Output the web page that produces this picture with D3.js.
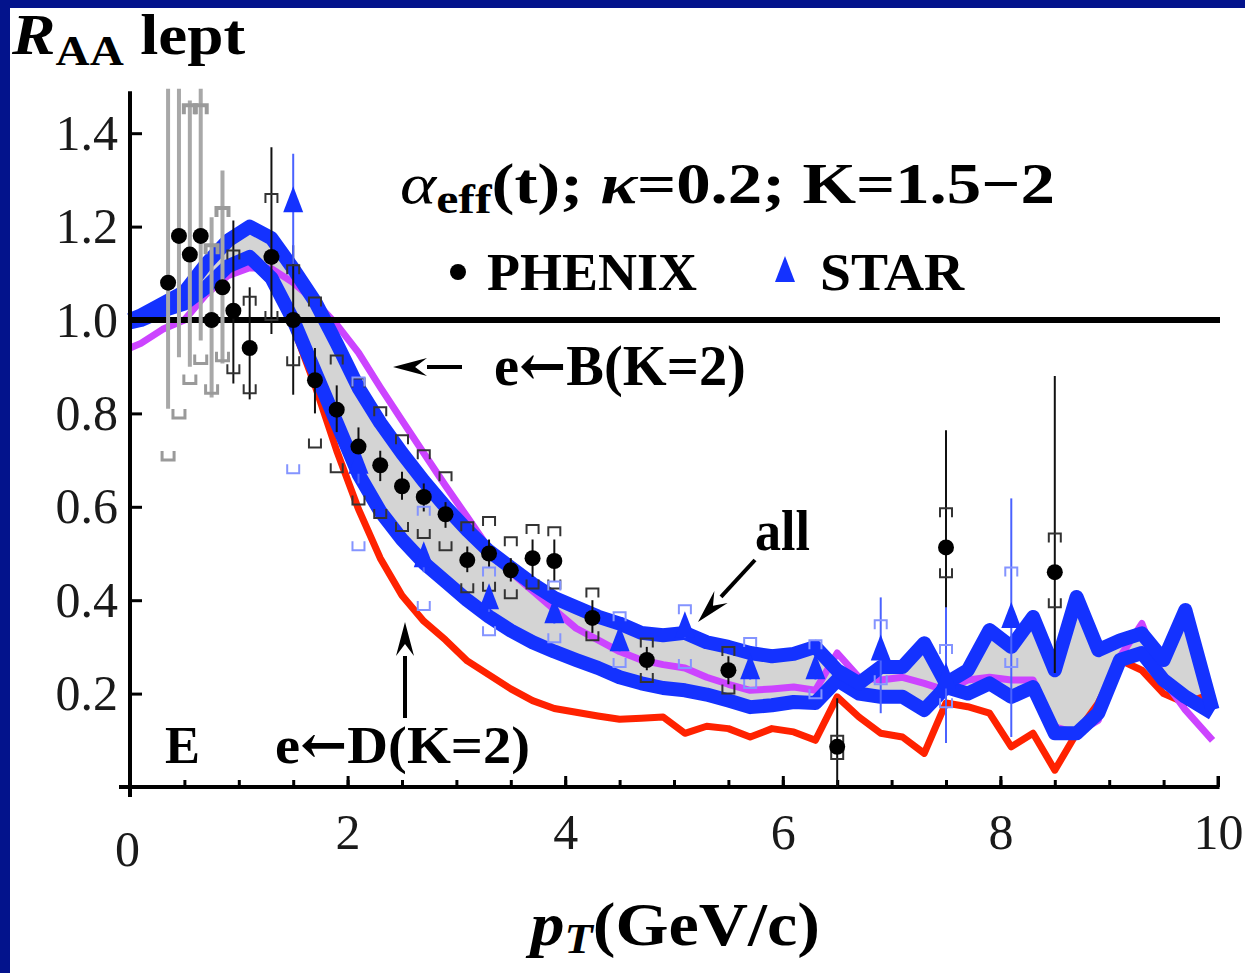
<!DOCTYPE html>
<html>
<head>
<meta charset="utf-8">
<script src="https://cdn.jsdelivr.net/npm/d3@7"></script>
<style>
  html, body { margin: 0; padding: 0; background: #03138c; }
  svg { display: block; }
</style>
</head>
<body>
<script>
// ---- model curves: pT grid (GeV/c) and R_AA of the calculations ----
const pt = [0, 0.1, 0.3, 0.5, 0.7, 0.9, 1.1, 1.3, 1.5, 1.7, 1.9, 2.1, 2.3, 2.5, 2.7, 2.9,
  3.1, 3.3, 3.5, 3.7, 3.9, 4.1, 4.3, 4.5, 4.7, 4.9, 5.1, 5.3, 5.5, 5.7, 5.9, 6.1, 6.3,
  6.5, 6.7, 6.9, 7.1, 7.3, 7.5, 7.7, 7.9, 8.1, 8.3, 8.5, 8.7, 8.9, 9.1, 9.3, 9.5, 9.7, 9.95];

// "all" leptons, K = 1.5 (upper edge of band)
const raaAllK15 = [1.00, 1.01, 1.035, 1.06, 1.12, 1.17, 1.20, 1.175, 1.11, 1.04, 0.95, 0.855,
  0.78, 0.715, 0.655, 0.60, 0.55, 0.505, 0.47, 0.435, 0.405, 0.385, 0.365, 0.35, 0.33, 0.325,
  0.33, 0.31, 0.30, 0.287, 0.28, 0.285, 0.30, 0.25, 0.222, 0.257, 0.257, 0.308, 0.222, 0.25,
  0.336, 0.30, 0.364, 0.25, 0.407, 0.293, 0.314, 0.329, 0.272, 0.379, 0.165];

// "all" leptons, K = 2 (lower edge of band)
const raaAllK2 = [0.995, 1.00, 1.02, 1.035, 1.07, 1.115, 1.135, 1.09, 1.00, 0.89, 0.78, 0.67,
  0.59, 0.53, 0.48, 0.44, 0.40, 0.365, 0.335, 0.31, 0.29, 0.272, 0.255, 0.235, 0.222, 0.212,
  0.207, 0.198, 0.185, 0.171, 0.175, 0.182, 0.18, 0.229, 0.20, 0.193, 0.193, 0.165, 0.214, 0.20,
  0.222, 0.193, 0.214, 0.115, 0.115, 0.158, 0.272, 0.287, 0.229, 0.193, 0.158];

// e <- B, K = 2
const raaBottom = [0.94, 0.95, 0.98, 1.00, 1.055, 1.095, 1.112, 1.11, 1.08, 1.04, 0.99, 0.93,
  0.856, 0.785, 0.715, 0.645, 0.578, 0.51, 0.46, 0.42, 0.38, 0.34, 0.315, 0.29, 0.272, 0.262,
  0.255, 0.235, 0.22, 0.207, 0.21, 0.214, 0.207, 0.287, 0.235, 0.229, 0.235, 0.222, 0.207, 0.229,
  0.235, 0.229, 0.229, 0.129, 0.115, 0.143, 0.279, 0.35, 0.229, 0.165, 0.10];

// e <- D, K = 2
const raaCharm = [0.99, 1.00, 1.02, 1.035, 1.07, 1.11, 1.13, 1.08, 0.985, 0.86, 0.72, 0.595,
  0.49, 0.41, 0.355, 0.315, 0.27, 0.24, 0.21, 0.185, 0.168, 0.16, 0.152, 0.145, 0.147, 0.15,
  0.115, 0.13, 0.125, 0.107, 0.125, 0.118, 0.10, 0.193, 0.15, 0.115, 0.107, 0.072, 0.18, 0.172,
  0.158, 0.086, 0.115, 0.036, 0.115, 0.18, 0.272, 0.25, 0.20, 0.18, 0.20];

// ---- PHENIX non-photonic electrons ----
const phenixPt = [0.35, 0.45, 0.55, 0.65, 0.75, 0.85, 0.95, 1.1, 1.3, 1.5, 1.7, 1.9, 2.1, 2.3,
  2.5, 2.7, 2.9, 3.1, 3.3, 3.5, 3.7, 3.9, 4.25, 4.75, 5.5, 6.5, 7.5, 8.5];
const phenixRaa = [1.08, 1.18, 1.14, 1.18, 1.00, 1.07, 1.02, 0.94, 1.135, 1.00, 0.871, 0.808,
  0.729, 0.689, 0.644, 0.621, 0.584, 0.486, 0.50, 0.464, 0.49, 0.484, 0.362, 0.272, 0.25, 0.086,
  0.513, 0.46];
const phenixStatLo = [0.81, 0.92, 0.90, 0.956, 0.834, 0.907, 0.864, 0.83, 0.97, 0.84, 0.80, 0.76,
  0.69, 0.655, 0.615, 0.59, 0.555, 0.46, 0.47, 0.44, 0.45, 0.44, 0.33, 0.25, 0.22, 0.0, 0.094, 0.244];
const phenixStatHi = [1.60, 1.60, 1.47, 1.60, 1.22, 1.32, 1.213, 1.07, 1.37, 1.16, 0.94, 0.86,
  0.77, 0.72, 0.675, 0.65, 0.61, 0.515, 0.53, 0.49, 0.53, 0.53, 0.40, 0.30, 0.28, 0.19, 0.764, 0.88];
const phenixSysLo = [0.70, 0.79, 0.864, 0.907, 0.843, 0.913, 0.886, 0.843, 1.00, 0.903, 0.727,
  0.674, 0.605, 0.576, 0.548, 0.533, 0.507, 0.417, 0.42, 0.404, 0.425, 0.425, 0.314, 0.225, 0.20,
  0.06, 0.449, 0.385];
const phenixSysHi = [1.55, 1.55, 1.46, 1.46, 1.16, 1.24, 1.149, 1.05, 1.27, 1.117, 1.048, 0.924,
  0.875, 0.813, 0.753, 0.721, 0.674, 0.567, 0.578, 0.535, 0.561, 0.556, 0.425, 0.318, 0.30, 0.11,
  0.597, 0.543];

// ---- STAR non-photonic electrons ----
const starPt = [1.5, 2.1, 2.7, 3.3, 3.9, 4.5, 5.1, 5.7, 6.3, 6.9, 7.5, 8.1];
const starRaa = [1.25, 0.69, 0.49, 0.40, 0.37, 0.31, 0.34, 0.25, 0.25, 0.29, 0.23, 0.36];
const starStatLo = [1.12, 0.65, 0.46, 0.375, 0.35, 0.29, 0.32, 0.23, 0.23, 0.158, 0.094, 0.107];
const starStatHi = [1.356, 0.73, 0.52, 0.425, 0.39, 0.33, 0.36, 0.27, 0.27, 0.406, 0.385, 0.618];
const starSysLo = [0.672, 0.507, 0.379, 0.325, 0.31, 0.257, 0.255, 0.212, 0.19, 0.22, 0.171, 0.257];
const starSysHi = [1.55, 0.877, 0.60, 0.47, 0.44, 0.374, 0.389, 0.319, 0.314, 0.357, 0.304, 0.47];

// ---- axes ----
const xTickLabels = [0, 2, 4, 6, 8, 10];
const xMinorTicks = [0.5, 1, 1.5, 2, 2.5, 3, 3.5, 4, 4.5, 5, 5.5, 6, 6.5, 7, 7.5, 8, 8.5, 9, 9.5, 10];
const yTickLabels = [0.2, 0.4, 0.6, 0.8, 1.0, 1.2, 1.4];

const W = 1245, H = 973;
const FONT = "'Liberation Serif', 'Times New Roman', serif";
const BLUE = '#1432ff', MAGENTA = '#cc44ff', RED = '#ff2200', BAND = '#d4d4d4';

const svg = d3.select('body').append('svg').attr('width', W).attr('height', H);
svg.append('rect').attr('width', W).attr('height', H).attr('fill', '#03138c');
svg.append('rect').attr('x', 10).attr('y', 8).attr('width', W - 10).attr('height', H - 8).attr('fill', '#fff');

const x = d3.scaleLinear().domain([0, 10]).range([130, 1218]);
const y = d3.scaleLinear().domain([0, 1.5]).range([787, 86.5]);

svg.append('defs').append('clipPath').attr('id', 'plotArea')
  .append('rect')
  .attr('x', x(0) - 3).attr('y', y(1.495))
  .attr('width', x(10) - x(0) + 15).attr('height', y(0) - y(1.495) + 10);

const plot = svg.append('g').attr('clip-path', 'url(#plotArea)');

// shaded band between the K = 1.5 and K = 2 "all" curves
const band = d3.area()
  .x((d, i) => x(pt[i]))
  .y0((d, i) => y(raaAllK2[i]))
  .y1((d, i) => y(raaAllK15[i]));
plot.append('path').datum(pt).attr('d', band).attr('fill', BAND);

const curve = vals => d3.line().x((d, i) => x(pt[i])).y((d, i) => y(vals[i]))(pt);
const drawCurve = (vals, color, width) =>
  plot.append('path').attr('d', curve(vals)).attr('fill', 'none')
    .attr('stroke', color).attr('stroke-width', width)
    .attr('stroke-linejoin', 'round').attr('stroke-linecap', 'butt');

drawCurve(raaCharm, RED, 7);
drawCurve(raaBottom, MAGENTA, 7);
drawCurve(raaAllK2, BLUE, 14);
drawCurve(raaAllK15, BLUE, 14);

// R_AA = 1 reference line
svg.append('line')
  .attr('x1', x(0)).attr('x2', x(10) + 2)
  .attr('y1', y(1)).attr('y2', y(1))
  .attr('stroke', '#000').attr('stroke-width', 6);

// axes
const xMinor = d3.axisBottom(x).tickValues(xMinorTicks).tickSizeInner(-7).tickSizeOuter(0).tickFormat('');
const gxMinor = svg.append('g').attr('transform', `translate(0,${y(0)})`).call(xMinor);
gxMinor.select('.domain').remove();
gxMinor.selectAll('.tick line').attr('stroke', '#000').attr('stroke-width', 3);

const xMajor = d3.axisBottom(x).tickValues(xTickLabels).tickSizeInner(-11).tickSizeOuter(0)
  .tickPadding(26).tickFormat(d3.format('d'));
const gx = svg.append('g').attr('transform', `translate(0,${y(0)})`).call(xMajor);
gx.select('.domain').remove();
gx.selectAll('.tick line').attr('stroke', '#000').attr('stroke-width', 3);
gx.selectAll('.tick text').attr('font-family', FONT).attr('font-size', 50).attr('fill', '#1a1a1a');
gx.selectAll('.tick').filter(d => d === 0).select('text').attr('dy', '1.05em').attr('x', -3);

const yAxis = d3.axisLeft(y).tickValues(yTickLabels).tickSizeInner(-12).tickSizeOuter(0)
  .tickPadding(12).tickFormat(d3.format('.1f'));
const gy = svg.append('g').attr('transform', `translate(${x(0)},0)`).call(yAxis);
gy.select('.domain').remove();
gy.selectAll('.tick line').attr('stroke', '#000').attr('stroke-width', 3);
gy.selectAll('.tick text').attr('font-family', FONT).attr('font-size', 50).attr('fill', '#1a1a1a');

svg.append('line').attr('x1', x(0) - 11).attr('x2', x(10) + 1).attr('y1', y(0)).attr('y2', y(0))
  .attr('stroke', '#000').attr('stroke-width', 4);
svg.append('line').attr('x1', x(0)).attr('x2', x(0)).attr('y1', y(1.49)).attr('y2', y(0) + 10)
  .attr('stroke', '#000').attr('stroke-width', 4);
svg.append('line').attr('x1', x(10)).attr('x2', x(10)).attr('y1', y(0) - 11).attr('y2', y(0) + 2)
  .attr('stroke', '#000').attr('stroke-width', 3);

// ---- data: error bars, systematic brackets, markers ----
const data = svg.append('g').attr('clip-path', 'url(#plotArea)');

function bracket(g, xc, yv, up, color, width) {
  const hw = 6, leg = up ? 9 : -9;
  g.append('path')
    .attr('d', `M${xc - hw},${yv + leg}L${xc - hw},${yv}L${xc + hw},${yv}L${xc + hw},${yv + leg}`)
    .attr('fill', 'none').attr('stroke', color).attr('stroke-width', width);
}

// PHENIX
phenixPt.forEach((p, i) => {
  const low = p < 0.9;
  const col = low ? '#a8a8a8' : '#111';
  data.append('line')
    .attr('x1', x(p)).attr('x2', x(p))
    .attr('y1', y(phenixStatLo[i])).attr('y2', y(phenixStatHi[i]))
    .attr('stroke', col).attr('stroke-width', low ? 4 : 2);
  const bcol = low ? '#9a9a9a' : '#333';
  bracket(data, x(p), y(phenixSysHi[i]), true, bcol, low ? 4 : 2);
  bracket(data, x(p), y(phenixSysLo[i]), false, bcol, low ? 3 : 2);
});

// STAR
starPt.forEach((p, i) => {
  data.append('line')
    .attr('x1', x(p)).attr('x2', x(p))
    .attr('y1', y(starStatLo[i])).attr('y2', y(starStatHi[i]))
    .attr('stroke', '#4a62ff').attr('stroke-width', 2);
  bracket(data, x(p), y(starSysHi[i]), true, '#8494ff', 2);
  bracket(data, x(p), y(starSysLo[i]), false, '#8494ff', 2);
});

const tri = d3.symbol().type({
  draw(ctx) { ctx.moveTo(0, -17); ctx.lineTo(10, 9); ctx.lineTo(-10, 9); ctx.closePath(); }
});
data.selectAll('path.star').data(starPt).join('path').attr('class', 'star')
  .attr('transform', (p, i) => `translate(${x(p)},${y(starRaa[i])})`)
  .attr('d', tri()).attr('fill', BLUE);

data.selectAll('circle.phenix').data(phenixPt).join('circle').attr('class', 'phenix')
  .attr('cx', p => x(p)).attr('cy', (p, i) => y(phenixRaa[i])).attr('r', 8).attr('fill', '#000');

// ---- text ----
function richText(px, py, size, parts, targetWidth) {
  const t = svg.append('text').attr('x', px).attr('y', py)
    .attr('font-family', FONT).attr('font-size', size).attr('font-weight', 'bold').attr('fill', '#000');
  parts.forEach(p => {
    const s = t.append('tspan').text(p.t);
    if (p.i) s.attr('font-style', 'italic');
    if (p.n) s.attr('font-weight', 'normal');
    if (p.s) s.attr('font-size', p.s);
    if (p.dy) s.attr('dy', p.dy);
    if (p.f) s.attr('font-family', p.f);
  });
  if (targetWidth) {
    const bb = t.node().getBBox();
    const k = targetWidth / bb.width;
    t.attr('transform', `translate(${bb.x},0) scale(${k},1) translate(${-bb.x},0)`);
  }
  return t;
}

richText(12, 54, 58, [{ t: 'R', i: 1 }, { t: 'AA', s: 42, dy: 11 }, { t: ' lept', dy: -11 }], 235);
richText(400, 203, 58, [{ t: 'α', i: 1, n: 1 }, { t: 'eff', s: 42, dy: 10 }, { t: '(t); ', dy: -10 },
  { t: 'κ', i: 1 }, { t: '=0.2; K=1.5−2' }], 655);

// legend
svg.append('circle').attr('cx', 458).attr('cy', 272).attr('r', 8).attr('fill', '#000');
richText(487, 290, 53, [{ t: 'PHENIX' }], 210);
svg.append('path').attr('transform', 'translate(785,273)').attr('d', tri()).attr('fill', BLUE);
richText(820, 290, 53, [{ t: 'STAR' }], 145);

// curve annotations
function arrow(x1, y1, x2, y2) {
  const a = Math.atan2(y2 - y1, x2 - x1), L = 34, hw = 9;
  const bx = x2 - L * Math.cos(a), by = y2 - L * Math.sin(a);
  svg.append('line').attr('x1', x1).attr('y1', y1).attr('x2', bx).attr('y2', by)
    .attr('stroke', '#000').attr('stroke-width', 4);
  const px = -Math.sin(a) * hw, py = Math.cos(a) * hw;
  svg.append('path')
    .attr('d', `M${x2},${y2}L${bx + px},${by + py}L${bx + 0.35 * L * Math.cos(a)},${by + 0.35 * L * Math.sin(a)}L${bx - px},${by - py}Z`)
    .attr('fill', '#000');
}

const ARROW_FONT = "'DejaVu Serif', serif";
richText(494, 385, 56, [{ t: 'e' }, { t: '←', f: ARROW_FONT }, { t: 'B(K=2)' }], 252);
arrow(462, 367, 393, 367);
richText(755, 550, 56, [{ t: 'all' }], 55);
arrow(755, 560, 698, 622);
richText(275, 763, 53, [{ t: 'e' }, { t: '←', f: ARROW_FONT }, { t: 'D(K=2)' }], 255);
arrow(405, 718, 405, 622);
richText(165, 763, 53, [{ t: 'E' }], 35);

// x-axis title
richText(530, 945, 62, [{ t: 'p', i: 1 }, { t: 'T', i: 1, s: 42, dy: 8 }, { t: '(GeV/c)', dy: -8 }], 295);
</script>
</body>
</html>
